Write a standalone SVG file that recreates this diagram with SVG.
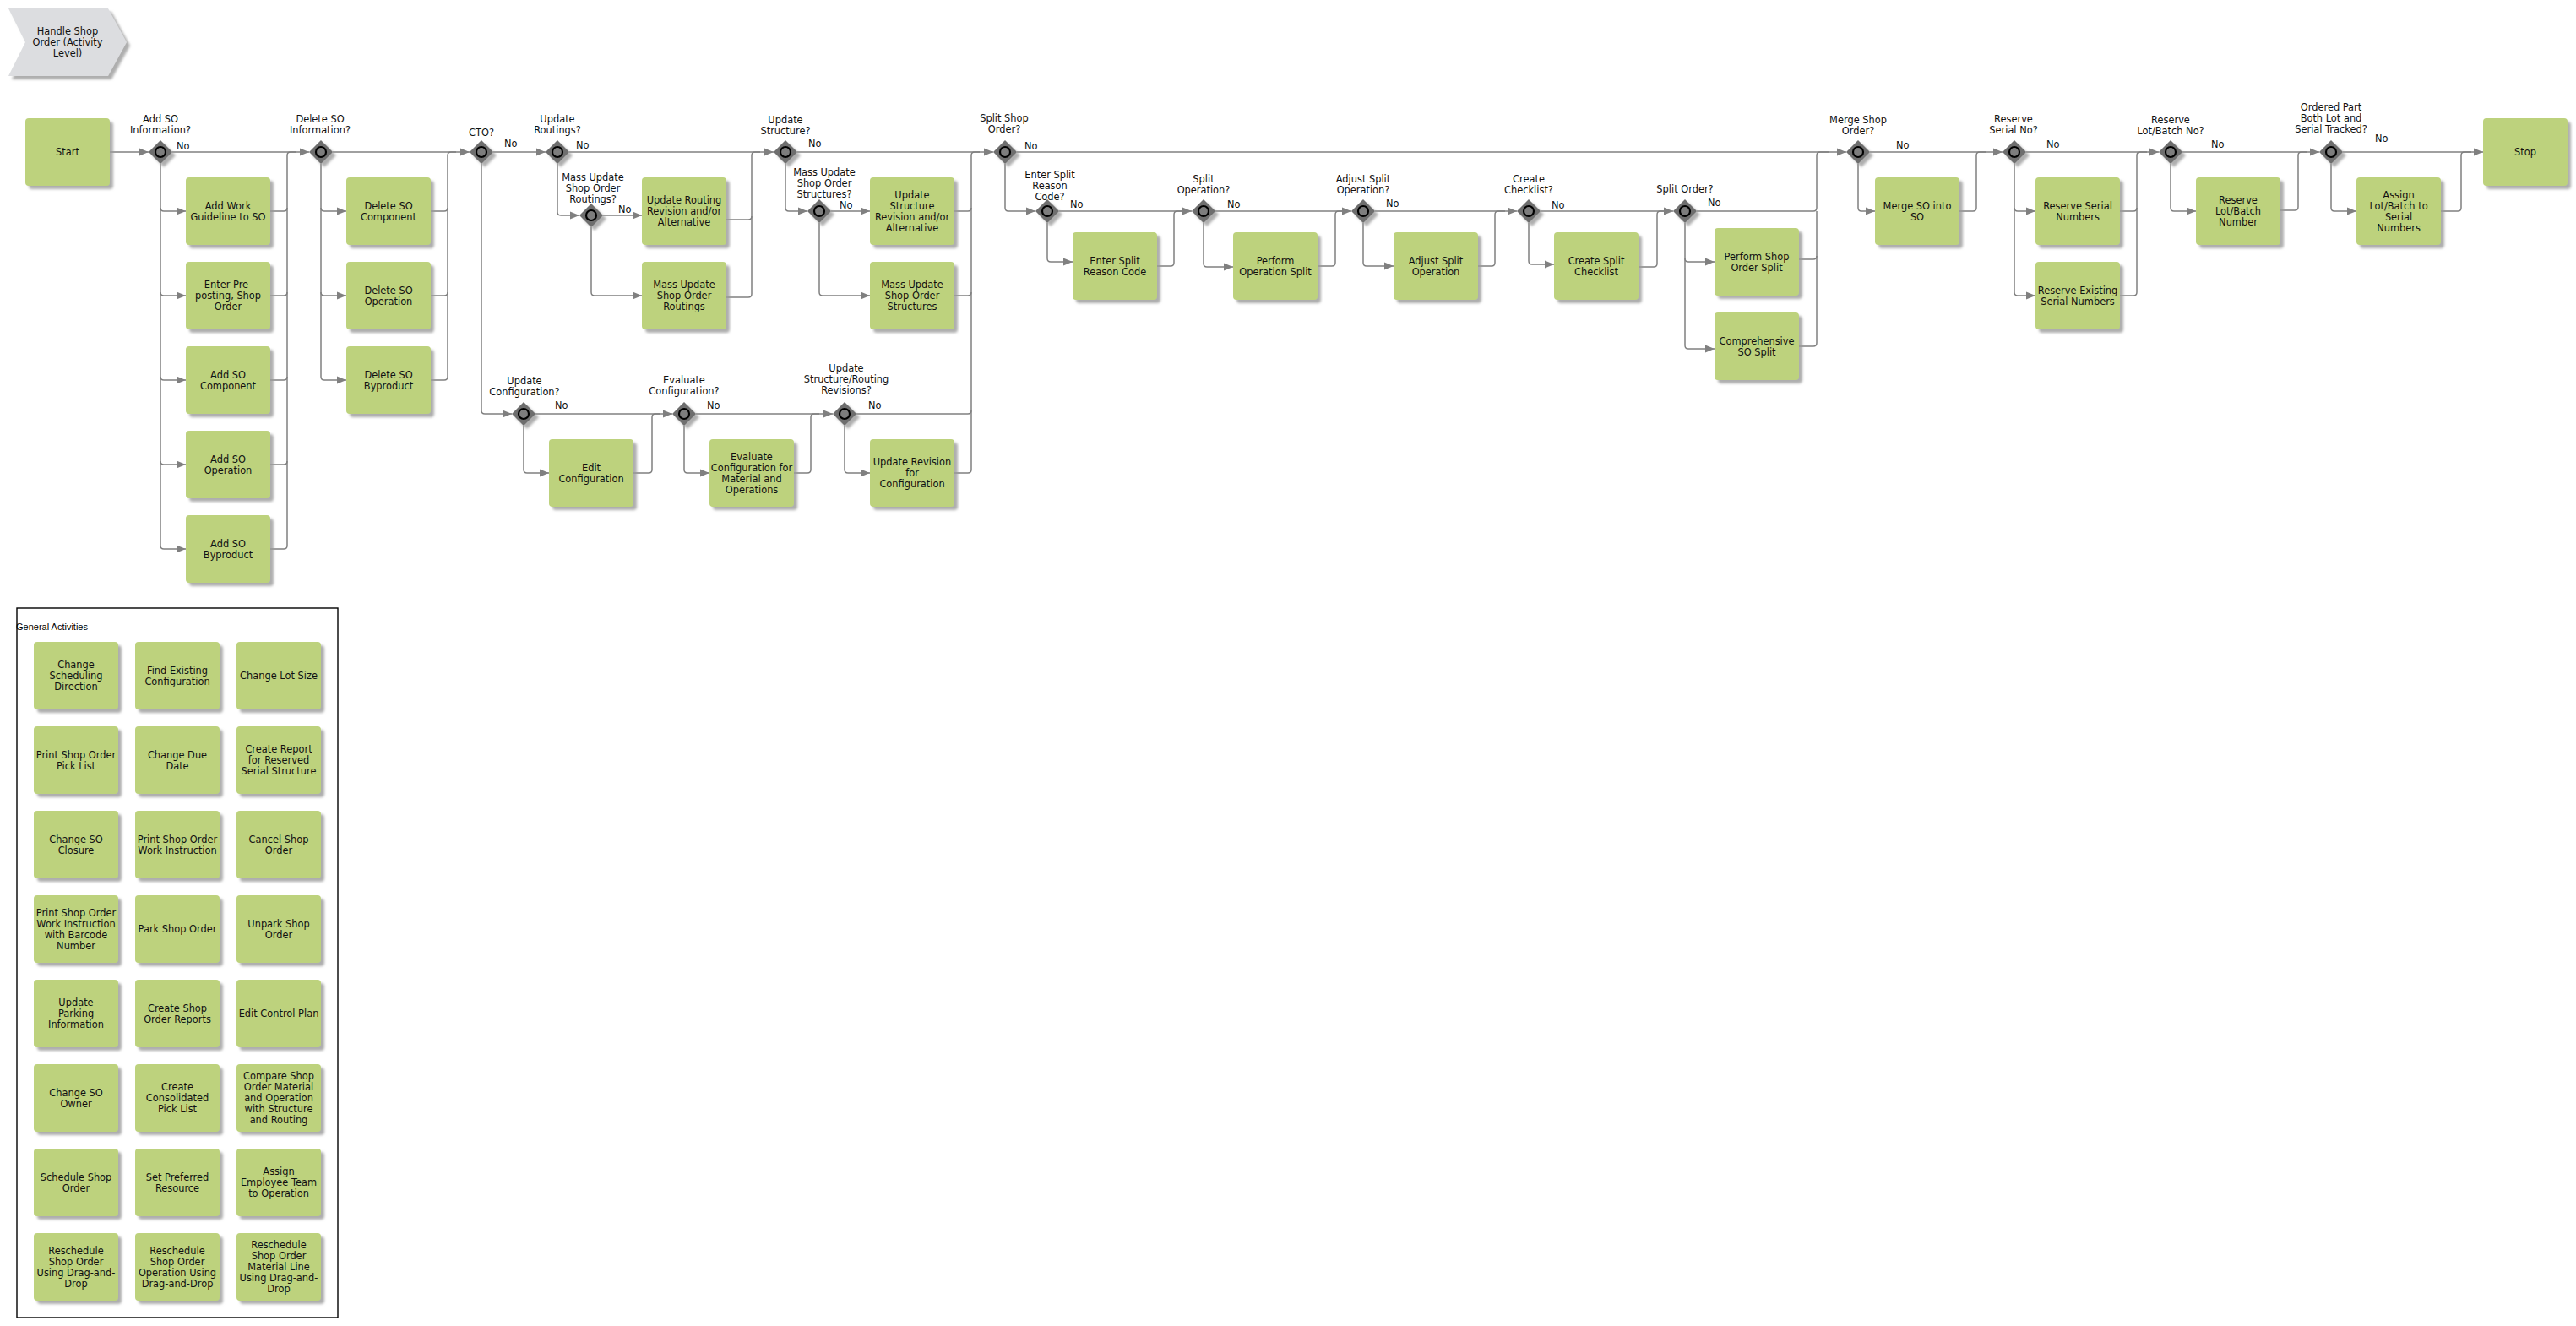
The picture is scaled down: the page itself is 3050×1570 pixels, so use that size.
<svg xmlns="http://www.w3.org/2000/svg" xmlns:xlink="http://www.w3.org/1999/xlink" width="3050" height="1570" viewBox="0 0 3050 1570">
<style>
text{font-family:"DejaVu Sans","Liberation Sans",sans-serif;font-size:11.4px;fill:#111}
.bx{fill:#bdd27d;filter:url(#sh)}
.bt{text-anchor:middle}
.lb{text-anchor:middle}
.c{fill:none;stroke:#808080;stroke-width:1.5}
.a{marker-end:url(#ar)}
.ga{font-family:"Liberation Sans",Arial,sans-serif;font-size:11px;fill:#000}
</style>
<defs>
<filter id="sh" x="-20%" y="-20%" width="150%" height="150%">
<feDropShadow dx="4" dy="4" stdDeviation="1.5" flood-color="#9a9a9a" flood-opacity="0.8"/>
</filter>
<marker id="ar" markerUnits="userSpaceOnUse" markerWidth="12" markerHeight="10" refX="11" refY="5" orient="auto">
<path d="M0,0.5 L11,5 L0,9.5 z" fill="#808080"/>
</marker>
<g id="gw">
<polygon points="0,-14 14,0 0,14 -14,0" fill="#6e6e6e" filter="url(#sh)"/>
<circle r="6" fill="#7d7d7d" stroke="#000" stroke-width="2.2"/>
</g>
</defs>
<rect width="3050" height="1570" fill="#fff"/>

<g id="title">
<polygon points="10,10 128,10 150,50 128,90 10,90 30,50" fill="#dcdde0" filter="url(#sh)"/>
<text class="bt" x="80" y="41">Handle Shop<tspan x="80" dy="13">Order (Activity</tspan><tspan x="80" dy="13">Level)</tspan></text>
</g>

<g id="connectors">
<path class="c a" d="M130,180 H176"/>
<path class="c a" d="M204,180 H366"/>
<path class="c a" d="M190,194 V646 Q190,650 194,650 H220"/>
<path class="c a" d="M190,246 Q190,250 194,250 H220"/>
<path class="c a" d="M190,346 Q190,350 194,350 H220"/>
<path class="c a" d="M190,446 Q190,450 194,450 H220"/>
<path class="c a" d="M190,546 Q190,550 194,550 H220"/>
<path class="c" d="M320,650 H336 Q340,650 340,646 V184 Q340,180 344,180 H350"/>
<path class="c" d="M320,250 H336 Q340,250 340,246"/>
<path class="c" d="M320,350 H336 Q340,350 340,346"/>
<path class="c" d="M320,450 H336 Q340,450 340,446"/>
<path class="c" d="M320,550 H336 Q340,550 340,546"/>

<path class="c a" d="M394,180 H556"/>
<path class="c a" d="M380,194 V446 Q380,450 384,450 H410"/>
<path class="c a" d="M380,246 Q380,250 384,250 H410"/>
<path class="c a" d="M380,346 Q380,350 384,350 H410"/>
<path class="c" d="M510,450 H526 Q530,450 530,446 V184 Q530,180 534,180 H540"/>
<path class="c" d="M510,250 H526 Q530,250 530,246"/>
<path class="c" d="M510,350 H526 Q530,350 530,346"/>

<path class="c a" d="M584,180 H646"/>
<path class="c a" d="M570,194 V486 Q570,490 574,490 H606"/>

<path class="c a" d="M674,180 H916"/>
<path class="c a" d="M660,194 V251 Q660,255 664,255 H686"/>
<path class="c a" d="M714,255 H760"/>
<path class="c a" d="M700,269 V346 Q700,350 704,350 H760"/>
<path class="c" d="M860,352 H886 Q890,352 890,348 V184 Q890,180 894,180 H900"/>
<path class="c" d="M860,260 H886 Q890,260 890,256"/>

<path class="c a" d="M944,180 H1176"/>
<path class="c a" d="M930,194 V246 Q930,250 934,250 H956"/>
<path class="c a" d="M984,250 H1030"/>
<path class="c a" d="M970,264 V346 Q970,350 974,350 H1030"/>
<path class="c" d="M1130,560 H1146 Q1150,560 1150,556 V184 Q1150,180 1154,180 H1160"/>
<path class="c" d="M1130,250 H1146 Q1150,250 1150,246"/>
<path class="c" d="M1130,350 H1146 Q1150,350 1150,346"/>
<path class="c" d="M1014,490 H1146 Q1150,490 1150,486"/>

<path class="c a" d="M634,490 H796"/>
<path class="c a" d="M620,504 V556 Q620,560 624,560 H650"/>
<path class="c" d="M750,560 H768 Q772,560 772,556 V494 Q772,490 776,490 H782"/>
<path class="c a" d="M824,490 H986"/>
<path class="c a" d="M810,504 V556 Q810,560 814,560 H840"/>
<path class="c" d="M940,560 H956 Q960,560 960,556 V494 Q960,490 964,490 H970"/>
<path class="c a" d="M1000,504 V556 Q1000,560 1004,560 H1030"/>

<path class="c a" d="M1204,180 H2186"/>
<path class="c a" d="M1190,194 V246 Q1190,250 1194,250 H1226"/>
<path class="c a" d="M1254,250 H1411"/>
<path class="c a" d="M1240,264 V306 Q1240,310 1244,310 H1270"/>
<path class="c" d="M1370,315 H1386 Q1390,315 1390,311 V254 Q1390,250 1394,250 H1400"/>
<path class="c a" d="M1439,250 H1600"/>
<path class="c a" d="M1425,264 V312 Q1425,316 1429,316 H1460"/>
<path class="c" d="M1560,315 H1577 Q1581,315 1581,311 V254 Q1581,250 1585,250 H1592"/>
<path class="c a" d="M1628,250 H1796"/>
<path class="c a" d="M1614,264 V311 Q1614,315 1618,315 H1650"/>
<path class="c" d="M1750,315 H1766 Q1770,315 1770,311 V254 Q1770,250 1774,250 H1782"/>
<path class="c a" d="M1824,250 H1981"/>
<path class="c a" d="M1810,264 V309 Q1810,313 1814,313 H1840"/>
<path class="c" d="M1940,316 H1958 Q1962,316 1962,312 V254 Q1962,250 1966,250 H1972"/>
<path class="c" d="M2009,250 H2147 Q2151,250 2151,246 V184 Q2151,180 2155,180 H2165"/>
<path class="c a" d="M1995,264 V409 Q1995,413 1999,413 H2030"/>
<path class="c a" d="M1995,306 Q1995,310 1999,310 H2030"/>
<path class="c" d="M2130,410 H2147 Q2151,410 2151,406 V250"/>
<path class="c" d="M2130,307 H2147 Q2151,307 2151,303"/>

<path class="c a" d="M2214,180 H2371"/>
<path class="c a" d="M2200,194 V246 Q2200,250 2204,250 H2220"/>
<path class="c" d="M2320,250 H2336 Q2340,250 2340,246 V184 Q2340,180 2344,180 H2352"/>

<path class="c a" d="M2399,180 H2556"/>
<path class="c a" d="M2385,194 V346 Q2385,350 2389,350 H2410"/>
<path class="c a" d="M2385,246 Q2385,250 2389,250 H2410"/>
<path class="c" d="M2510,350 H2526 Q2530,350 2530,346 V184 Q2530,180 2534,180 H2542"/>
<path class="c" d="M2510,250 H2526 Q2530,250 2530,246"/>

<path class="c a" d="M2584,180 H2746"/>
<path class="c a" d="M2570,194 V246 Q2570,250 2574,250 H2600"/>
<path class="c" d="M2700,249 H2717 Q2721,249 2721,245 V184 Q2721,180 2725,180 H2732"/>

<path class="c a" d="M2774,180 H2940"/>
<path class="c a" d="M2760,194 V246 Q2760,250 2764,250 H2790"/>
<path class="c" d="M2890,250 H2910 Q2914,250 2914,246 V184 Q2914,180 2918,180 H2926"/>
</g>

<g id="edge-labels">
<text x="209" y="177">No</text>
<text x="597" y="174">No</text>
<text x="682" y="176">No</text>
<text x="732" y="252">No</text>
<text x="957" y="174">No</text>
<text x="994" y="247">No</text>
<text x="657" y="484">No</text>
<text x="837" y="484">No</text>
<text x="1028" y="484">No</text>
<text x="1213" y="177">No</text>
<text x="1267" y="246">No</text>
<text x="1453" y="246">No</text>
<text x="1641" y="245">No</text>
<text x="1837" y="247">No</text>
<text x="2022" y="244">No</text>
<text x="2245" y="176">No</text>
<text x="2423" y="175">No</text>
<text x="2618" y="175">No</text>
<text x="2812" y="168">No</text>
</g>

<!-- Gateways -->
<g id="g-add-so"><use xlink:href="#gw" x="190" y="180"/><text class="lb" x="190" y="145">Add SO<tspan x="190" dy="13">Information?</tspan></text></g>
<g id="g-delete-so"><use xlink:href="#gw" x="380" y="180"/><text class="lb" x="379" y="145">Delete SO<tspan x="379" dy="13">Information?</tspan></text></g>
<g id="g-cto"><use xlink:href="#gw" x="570" y="180"/><text class="lb" x="570" y="161">CTO?</text></g>
<g id="g-upd-routings"><use xlink:href="#gw" x="660" y="180"/><text class="lb" x="660" y="145">Update<tspan x="660" dy="13">Routings?</tspan></text></g>
<g id="g-mass-routings"><use xlink:href="#gw" x="700" y="255"/><text class="lb" x="702" y="214">Mass Update<tspan x="702" dy="13">Shop Order</tspan><tspan x="702" dy="13">Routings?</tspan></text></g>
<g id="g-upd-structure"><use xlink:href="#gw" x="930" y="180"/><text class="lb" x="930" y="146">Update<tspan x="930" dy="13">Structure?</tspan></text></g>
<g id="g-mass-structures"><use xlink:href="#gw" x="970" y="250"/><text class="lb" x="976" y="208">Mass Update<tspan x="976" dy="13">Shop Order</tspan><tspan x="976" dy="13">Structures?</tspan></text></g>
<g id="g-upd-config"><use xlink:href="#gw" x="620" y="490"/><text class="lb" x="621" y="455">Update<tspan x="621" dy="13">Configuration?</tspan></text></g>
<g id="g-eval-config"><use xlink:href="#gw" x="810" y="490"/><text class="lb" x="810" y="454">Evaluate<tspan x="810" dy="13">Configuration?</tspan></text></g>
<g id="g-upd-revisions"><use xlink:href="#gw" x="1000" y="490"/><text class="lb" x="1002" y="440">Update<tspan x="1002" dy="13">Structure/Routing</tspan><tspan x="1002" dy="13">Revisions?</tspan></text></g>
<g id="g-split-so"><use xlink:href="#gw" x="1190" y="180"/><text class="lb" x="1189" y="144">Split Shop<tspan x="1189" dy="13">Order?</tspan></text></g>
<g id="g-split-reason"><use xlink:href="#gw" x="1240" y="250"/><text class="lb" x="1243" y="211">Enter Split<tspan x="1243" dy="13">Reason</tspan><tspan x="1243" dy="13">Code?</tspan></text></g>
<g id="g-split-op"><use xlink:href="#gw" x="1425" y="250"/><text class="lb" x="1425" y="216">Split<tspan x="1425" dy="13">Operation?</tspan></text></g>
<g id="g-adjust-split"><use xlink:href="#gw" x="1614" y="250"/><text class="lb" x="1614" y="216">Adjust Split<tspan x="1614" dy="13">Operation?</tspan></text></g>
<g id="g-create-checklist"><use xlink:href="#gw" x="1810" y="250"/><text class="lb" x="1810" y="216">Create<tspan x="1810" dy="13">Checklist?</tspan></text></g>
<g id="g-split-order"><use xlink:href="#gw" x="1995" y="250"/><text class="lb" x="1995" y="228">Split Order?</text></g>
<g id="g-merge"><use xlink:href="#gw" x="2200" y="180"/><text class="lb" x="2200" y="146">Merge Shop<tspan x="2200" dy="13">Order?</tspan></text></g>
<g id="g-reserve-serial"><use xlink:href="#gw" x="2385" y="180"/><text class="lb" x="2384" y="145">Reserve<tspan x="2384" dy="13">Serial No?</tspan></text></g>
<g id="g-reserve-lot"><use xlink:href="#gw" x="2570" y="180"/><text class="lb" x="2570" y="146">Reserve<tspan x="2570" dy="13">Lot/Batch No?</tspan></text></g>
<g id="g-ordered-part"><use xlink:href="#gw" x="2760" y="180"/><text class="lb" x="2760" y="131">Ordered Part<tspan x="2760" dy="13">Both Lot and</tspan><tspan x="2760" dy="13">Serial Tracked?</tspan></text></g>

<!-- Activities -->
<g id="n-start"><rect class="bx" x="30" y="140" width="100" height="80" rx="4"/><text class="bt" x="80" y="184">Start</text></g>
<g id="n-stop"><rect class="bx" x="2940" y="140" width="100" height="80" rx="4"/><text class="bt" x="2990" y="184">Stop</text></g>

<g id="n-add-work"><rect class="bx" x="220" y="210" width="100" height="80" rx="4"/><text class="bt" x="270" y="247.5">Add Work<tspan x="270" dy="13">Guideline to SO</tspan></text></g>
<g id="n-enter-preposting"><rect class="bx" x="220" y="310" width="100" height="80" rx="4"/><text class="bt" x="270" y="341">Enter Pre-<tspan x="270" dy="13">posting, Shop</tspan><tspan x="270" dy="13">Order</tspan></text></g>
<g id="n-add-component"><rect class="bx" x="220" y="410" width="100" height="80" rx="4"/><text class="bt" x="270" y="447.5">Add SO<tspan x="270" dy="13">Component</tspan></text></g>
<g id="n-add-operation"><rect class="bx" x="220" y="510" width="100" height="80" rx="4"/><text class="bt" x="270" y="547.5">Add SO<tspan x="270" dy="13">Operation</tspan></text></g>
<g id="n-add-byproduct"><rect class="bx" x="220" y="610" width="100" height="80" rx="4"/><text class="bt" x="270" y="647.5">Add SO<tspan x="270" dy="13">Byproduct</tspan></text></g>

<g id="n-del-component"><rect class="bx" x="410" y="210" width="100" height="80" rx="4"/><text class="bt" x="460" y="247.5">Delete SO<tspan x="460" dy="13">Component</tspan></text></g>
<g id="n-del-operation"><rect class="bx" x="410" y="310" width="100" height="80" rx="4"/><text class="bt" x="460" y="347.5">Delete SO<tspan x="460" dy="13">Operation</tspan></text></g>
<g id="n-del-byproduct"><rect class="bx" x="410" y="410" width="100" height="80" rx="4"/><text class="bt" x="460" y="447.5">Delete SO<tspan x="460" dy="13">Byproduct</tspan></text></g>

<g id="n-upd-routing-rev"><rect class="bx" x="760" y="210" width="100" height="80" rx="4"/><text class="bt" x="810" y="241">Update Routing<tspan x="810" dy="13">Revision and/or</tspan><tspan x="810" dy="13">Alternative</tspan></text></g>
<g id="n-mass-routings"><rect class="bx" x="760" y="310" width="100" height="80" rx="4"/><text class="bt" x="810" y="341">Mass Update<tspan x="810" dy="13">Shop Order</tspan><tspan x="810" dy="13">Routings</tspan></text></g>
<g id="n-upd-structure-rev"><rect class="bx" x="1030" y="210" width="100" height="80" rx="4"/><text class="bt" x="1080" y="234.5">Update<tspan x="1080" dy="13">Structure</tspan><tspan x="1080" dy="13">Revision and/or</tspan><tspan x="1080" dy="13">Alternative</tspan></text></g>
<g id="n-mass-structures"><rect class="bx" x="1030" y="310" width="100" height="80" rx="4"/><text class="bt" x="1080" y="341">Mass Update<tspan x="1080" dy="13">Shop Order</tspan><tspan x="1080" dy="13">Structures</tspan></text></g>

<g id="n-edit-config"><rect class="bx" x="650" y="520" width="100" height="80" rx="4"/><text class="bt" x="700" y="557.5">Edit<tspan x="700" dy="13">Configuration</tspan></text></g>
<g id="n-eval-config"><rect class="bx" x="840" y="520" width="100" height="80" rx="4"/><text class="bt" x="890" y="544.5">Evaluate<tspan x="890" dy="13">Configuration for</tspan><tspan x="890" dy="13">Material and</tspan><tspan x="890" dy="13">Operations</tspan></text></g>
<g id="n-upd-revision-config"><rect class="bx" x="1030" y="520" width="100" height="80" rx="4"/><text class="bt" x="1080" y="551">Update Revision<tspan x="1080" dy="13">for</tspan><tspan x="1080" dy="13">Configuration</tspan></text></g>

<g id="n-enter-split-reason"><rect class="bx" x="1270" y="275" width="100" height="80" rx="4"/><text class="bt" x="1320" y="312.5">Enter Split<tspan x="1320" dy="13">Reason Code</tspan></text></g>
<g id="n-perform-op-split"><rect class="bx" x="1460" y="275" width="100" height="80" rx="4"/><text class="bt" x="1510" y="312.5">Perform<tspan x="1510" dy="13">Operation Split</tspan></text></g>
<g id="n-adjust-split-op"><rect class="bx" x="1650" y="275" width="100" height="80" rx="4"/><text class="bt" x="1700" y="312.5">Adjust Split<tspan x="1700" dy="13">Operation</tspan></text></g>
<g id="n-create-split-checklist"><rect class="bx" x="1840" y="275" width="100" height="80" rx="4"/><text class="bt" x="1890" y="312.5">Create Split<tspan x="1890" dy="13">Checklist</tspan></text></g>
<g id="n-perform-so-split"><rect class="bx" x="2030" y="270" width="100" height="80" rx="4"/><text class="bt" x="2080" y="307.5">Perform Shop<tspan x="2080" dy="13">Order Split</tspan></text></g>
<g id="n-comprehensive-split"><rect class="bx" x="2030" y="370" width="100" height="80" rx="4"/><text class="bt" x="2080" y="407.5">Comprehensive<tspan x="2080" dy="13">SO Split</tspan></text></g>

<g id="n-merge-so"><rect class="bx" x="2220" y="210" width="100" height="80" rx="4"/><text class="bt" x="2270" y="247.5">Merge SO into<tspan x="2270" dy="13">SO</tspan></text></g>
<g id="n-reserve-serial"><rect class="bx" x="2410" y="210" width="100" height="80" rx="4"/><text class="bt" x="2460" y="247.5">Reserve Serial<tspan x="2460" dy="13">Numbers</tspan></text></g>
<g id="n-reserve-existing"><rect class="bx" x="2410" y="310" width="100" height="80" rx="4"/><text class="bt" x="2460" y="347.5">Reserve Existing<tspan x="2460" dy="13">Serial Numbers</tspan></text></g>
<g id="n-reserve-lot"><rect class="bx" x="2600" y="210" width="100" height="80" rx="4"/><text class="bt" x="2650" y="241">Reserve<tspan x="2650" dy="13">Lot/Batch</tspan><tspan x="2650" dy="13">Number</tspan></text></g>
<g id="n-assign-lot"><rect class="bx" x="2790" y="210" width="100" height="80" rx="4"/><text class="bt" x="2840" y="234.5">Assign<tspan x="2840" dy="13">Lot/Batch to</tspan><tspan x="2840" dy="13">Serial</tspan><tspan x="2840" dy="13">Numbers</tspan></text></g>

<!-- General Activities -->
<g id="general-activities">
<rect x="20" y="720" width="380" height="840" fill="none" stroke="#000" stroke-width="1.4"/>
<text class="ga" x="19" y="746">General Activities</text>
</g>
<g id="ga-1"><rect class="bx" x="40" y="760" width="100" height="80" rx="4"/><text class="bt" x="90" y="791">Change<tspan x="90" dy="13">Scheduling</tspan><tspan x="90" dy="13">Direction</tspan></text></g>
<g id="ga-2"><rect class="bx" x="160" y="760" width="100" height="80" rx="4"/><text class="bt" x="210" y="797.5">Find Existing<tspan x="210" dy="13">Configuration</tspan></text></g>
<g id="ga-3"><rect class="bx" x="280" y="760" width="100" height="80" rx="4"/><text class="bt" x="330" y="804">Change Lot Size</text></g>
<g id="ga-4"><rect class="bx" x="40" y="860" width="100" height="80" rx="4"/><text class="bt" x="90" y="897.5">Print Shop Order<tspan x="90" dy="13">Pick List</tspan></text></g>
<g id="ga-5"><rect class="bx" x="160" y="860" width="100" height="80" rx="4"/><text class="bt" x="210" y="897.5">Change Due<tspan x="210" dy="13">Date</tspan></text></g>
<g id="ga-6"><rect class="bx" x="280" y="860" width="100" height="80" rx="4"/><text class="bt" x="330" y="891">Create Report<tspan x="330" dy="13">for Reserved</tspan><tspan x="330" dy="13">Serial Structure</tspan></text></g>
<g id="ga-7"><rect class="bx" x="40" y="960" width="100" height="80" rx="4"/><text class="bt" x="90" y="997.5">Change SO<tspan x="90" dy="13">Closure</tspan></text></g>
<g id="ga-8"><rect class="bx" x="160" y="960" width="100" height="80" rx="4"/><text class="bt" x="210" y="997.5">Print Shop Order<tspan x="210" dy="13">Work Instruction</tspan></text></g>
<g id="ga-9"><rect class="bx" x="280" y="960" width="100" height="80" rx="4"/><text class="bt" x="330" y="997.5">Cancel Shop<tspan x="330" dy="13">Order</tspan></text></g>
<g id="ga-10"><rect class="bx" x="40" y="1060" width="100" height="80" rx="4"/><text class="bt" x="90" y="1084.5">Print Shop Order<tspan x="90" dy="13">Work Instruction</tspan><tspan x="90" dy="13">with Barcode</tspan><tspan x="90" dy="13">Number</tspan></text></g>
<g id="ga-11"><rect class="bx" x="160" y="1060" width="100" height="80" rx="4"/><text class="bt" x="210" y="1104">Park Shop Order</text></g>
<g id="ga-12"><rect class="bx" x="280" y="1060" width="100" height="80" rx="4"/><text class="bt" x="330" y="1097.5">Unpark Shop<tspan x="330" dy="13">Order</tspan></text></g>
<g id="ga-13"><rect class="bx" x="40" y="1160" width="100" height="80" rx="4"/><text class="bt" x="90" y="1191">Update<tspan x="90" dy="13">Parking</tspan><tspan x="90" dy="13">Information</tspan></text></g>
<g id="ga-14"><rect class="bx" x="160" y="1160" width="100" height="80" rx="4"/><text class="bt" x="210" y="1197.5">Create Shop<tspan x="210" dy="13">Order Reports</tspan></text></g>
<g id="ga-15"><rect class="bx" x="280" y="1160" width="100" height="80" rx="4"/><text class="bt" x="330" y="1204">Edit Control Plan</text></g>
<g id="ga-16"><rect class="bx" x="40" y="1260" width="100" height="80" rx="4"/><text class="bt" x="90" y="1297.5">Change SO<tspan x="90" dy="13">Owner</tspan></text></g>
<g id="ga-17"><rect class="bx" x="160" y="1260" width="100" height="80" rx="4"/><text class="bt" x="210" y="1291">Create<tspan x="210" dy="13">Consolidated</tspan><tspan x="210" dy="13">Pick List</tspan></text></g>
<g id="ga-18"><rect class="bx" x="280" y="1260" width="100" height="80" rx="4"/><text class="bt" x="330" y="1278">Compare Shop<tspan x="330" dy="13">Order Material</tspan><tspan x="330" dy="13">and Operation</tspan><tspan x="330" dy="13">with Structure</tspan><tspan x="330" dy="13">and Routing</tspan></text></g>
<g id="ga-19"><rect class="bx" x="40" y="1360" width="100" height="80" rx="4"/><text class="bt" x="90" y="1397.5">Schedule Shop<tspan x="90" dy="13">Order</tspan></text></g>
<g id="ga-20"><rect class="bx" x="160" y="1360" width="100" height="80" rx="4"/><text class="bt" x="210" y="1397.5">Set Preferred<tspan x="210" dy="13">Resource</tspan></text></g>
<g id="ga-21"><rect class="bx" x="280" y="1360" width="100" height="80" rx="4"/><text class="bt" x="330" y="1391">Assign<tspan x="330" dy="13">Employee Team</tspan><tspan x="330" dy="13">to Operation</tspan></text></g>
<g id="ga-22"><rect class="bx" x="40" y="1460" width="100" height="80" rx="4"/><text class="bt" x="90" y="1484.5">Reschedule<tspan x="90" dy="13">Shop Order</tspan><tspan x="90" dy="13">Using Drag-and-</tspan><tspan x="90" dy="13">Drop</tspan></text></g>
<g id="ga-23"><rect class="bx" x="160" y="1460" width="100" height="80" rx="4"/><text class="bt" x="210" y="1484.5">Reschedule<tspan x="210" dy="13">Shop Order</tspan><tspan x="210" dy="13">Operation Using</tspan><tspan x="210" dy="13">Drag-and-Drop</tspan></text></g>
<g id="ga-24"><rect class="bx" x="280" y="1460" width="100" height="80" rx="4"/><text class="bt" x="330" y="1478">Reschedule<tspan x="330" dy="13">Shop Order</tspan><tspan x="330" dy="13">Material Line</tspan><tspan x="330" dy="13">Using Drag-and-</tspan><tspan x="330" dy="13">Drop</tspan></text></g>
</svg>
